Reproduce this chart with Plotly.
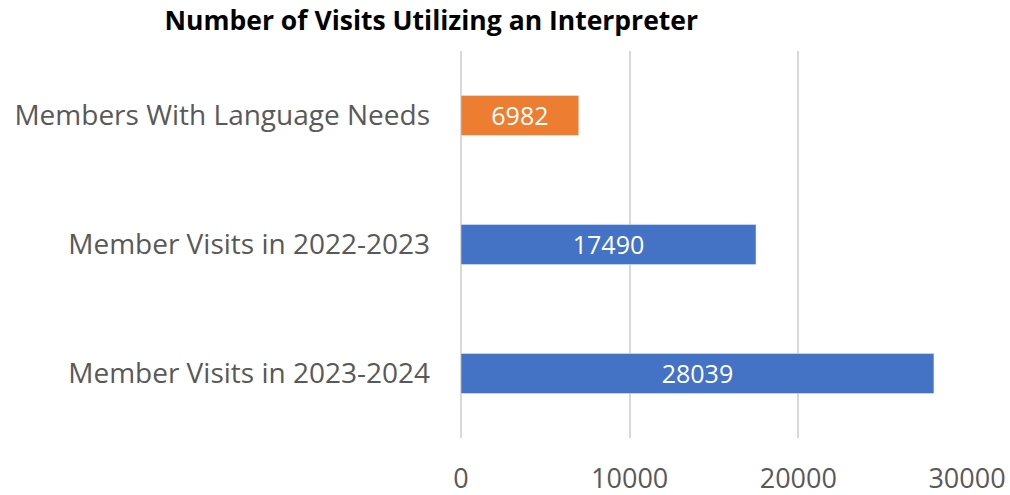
import plotly.graph_objects as go

categories = [
    "Members With Language Needs",
    "Member Visits in 2022-2023",
    "Member Visits in 2023-2024",
]
visits = [6982, 17490, 28039]
bar_colors = ["#ED7D31", "#4472C4", "#4472C4"]
x_ticks = [0, 10000, 20000, 30000]

fig = go.Figure(
    go.Bar(
        x=visits,
        y=categories,
        orientation="h",
        marker=dict(color=bar_colors),
        width=0.31,
        text=[str(v) for v in visits],
        textposition="inside",
        insidetextanchor="middle",
        textfont=dict(color="white", size=28, family="Open Sans"),
    )
)

fig.update_layout(
    width=1010,
    height=495,
    paper_bgcolor="white",
    plot_bgcolor="white",
    margin=dict(l=461, r=43, t=51, b=57),
    showlegend=False,
    title=dict(
        text="<b>Number of Visits Utilizing an Interpreter</b>",
        x=0.427,
        xanchor="center",
        y=0.958,
        yanchor="middle",
        font=dict(size=26.5, color="black", family="Open Sans"),
    ),
    font=dict(family="Open Sans", color="#595959"),
)

fig.update_xaxes(
    range=[0, 30000],
    tickvals=x_ticks,
    ticktext=[str(t) for t in x_ticks],
    showgrid=True,
    gridcolor="#D9D9D9",
    gridwidth=1.5,
    zeroline=True,
    zerolinecolor="#D9D9D9",
    zerolinewidth=1.5,
    tickfont=dict(size=27, color="#595959"),
    ticklabelstandoff=22,
    ticklabeloverflow="allow",
    showline=False,
    automargin=False,
)

fig.update_yaxes(
    categoryorder="array",
    categoryarray=categories,
    autorange="reversed",
    tickfont=dict(size=28, color="#595959"),
    ticklabelstandoff=30,
    showgrid=False,
    showline=False,
    automargin=False,
)

# drop the default 8px page margin so the figure fills the window exactly
fig.write_html(
    "out.html",
    config={"displayModeBar": False},
    post_script="document.body.style.margin = '0';",
)
